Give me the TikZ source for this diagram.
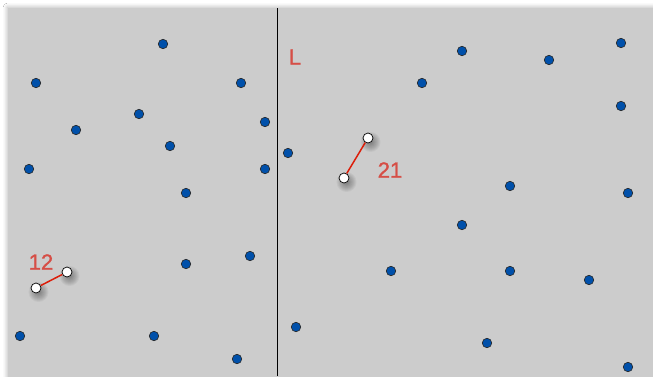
\documentclass[tikz,border=0pt]{standalone}
\usepackage{fontspec}
\setmainfont{Liberation Sans}
\newfontfamily\lblfont[FakeBold=1.2]{Liberation Sans}
\usetikzlibrary{shadows.blur,calc}
\pgfdeclarelayer{bg}
\pgfdeclarelayer{shad}
\pgfsetlayers{bg,shad,main}
\definecolor{panel}{RGB}{204,204,204}
\definecolor{dotblue}{RGB}{0,80,170}
\definecolor{lblred}{RGB}{214,78,70}
\definecolor{segred}{RGB}{220,30,10}
\newcommand{\softshadow}[1]{%
  \begin{pgfonlayer}{shad}
  \foreach \r in {10,9,...,2}{\fill[black,opacity=0.045] ($(#1)+(2.5,4)$) circle (\r);}
  \end{pgfonlayer}}
\begin{document}
\begin{tikzpicture}[x=1pt,y=-1pt,
  pt/.style={circle,draw=black!85,line width=0.6pt,fill=dotblue,inner sep=0pt,minimum size=9.5pt},
  endp/.style={circle,draw=black,line width=0.7pt,fill=white,inner sep=0pt,minimum size=10pt},
  seg/.style={draw=segred,line width=1.5pt},
  lbl/.style={text=lblred,font=\lblfont\fontsize{22}{22}\selectfont,inner sep=0pt}]
\useasboundingbox (0,0) rectangle (653,376);
\begin{pgfonlayer}{bg}
\fill[white] (0,0) rectangle (653,376);
\node[fill=panel,inner sep=0pt,minimum width=660pt,minimum height=380pt,anchor=north west,
  blur shadow={shadow xshift=-1pt,shadow yshift=1pt,shadow blur radius=4pt,shadow opacity=30}] (panel) at (8,8) {};
\end{pgfonlayer}
\coordinate (Ltop) at (277,8);
\coordinate (Lbot) at (277,376);
\draw[line width=0.8pt,black] (Ltop) -- (Lbot);
\node[lbl] (Llab) at (295,57) {L};
% left dots
\node[pt] (a1) at (163,44) {};
\node[pt] (a2) at (36,83) {};
\node[pt] (a3) at (241,83) {};
\node[pt] (a4) at (139,114) {};
\node[pt] (a5) at (76,130) {};
\node[pt] (a6) at (265,122) {};
\node[pt] (a7) at (170,146) {};
\node[pt] (a8) at (29,169) {};
\node[pt] (a9) at (265,169) {};
\node[pt] (a10) at (186,193) {};
\node[pt] (a11) at (186,264) {};
\node[pt] (a12) at (250,256) {};
\node[pt] (a13) at (20,336) {};
\node[pt] (a14) at (154,336) {};
\node[pt] (a15) at (237,359) {};
% right dots
\node[pt] (b1) at (288,153) {};
\node[pt] (b2) at (462,51) {};
\node[pt] (b3) at (549,60) {};
\node[pt] (b4) at (621,43) {};
\node[pt] (b5) at (422,83) {};
\node[pt] (b6) at (621,106) {};
\node[pt] (b7) at (510,186) {};
\node[pt] (b8) at (628,193) {};
\node[pt] (b9) at (462,225) {};
\node[pt] (b10) at (391,271) {};
\node[pt] (b11) at (510,271) {};
\node[pt] (b12) at (589,280) {};
\node[pt] (b13) at (296,327) {};
\node[pt] (b14) at (487,343) {};
\node[pt] (b15) at (628,367) {};
% segment 12
\node[endp] (p1) at (36,288) {};
\node[endp] (p2) at (67,272) {};
\softshadow{p1}\softshadow{p2}
\draw[seg] (p1) -- (p2);
\node[lbl] (l12) at (41,262) {12};
% segment 21
\node[endp] (q1) at (344,178) {};
\node[endp] (q2) at (368,138) {};
\softshadow{q1}\softshadow{q2}
\draw[seg] (q1) -- (q2);
\node[lbl] (l21) at (390,170) {21};
\end{tikzpicture}
\end{document}
